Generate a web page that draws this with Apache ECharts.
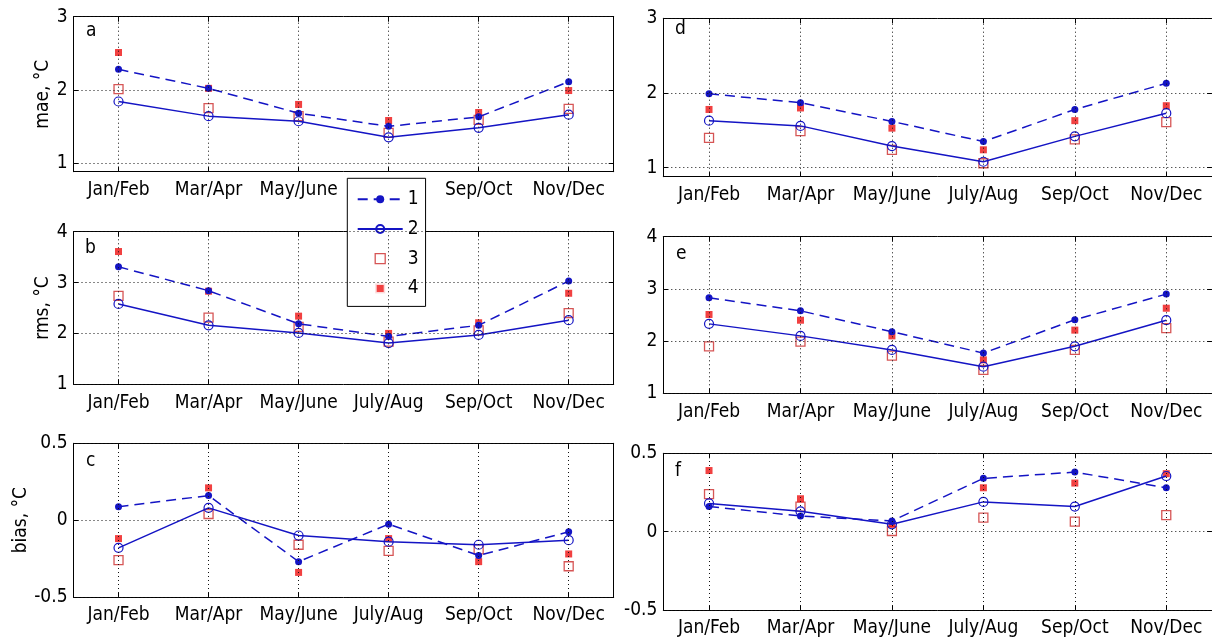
<!DOCTYPE html>
<html><head><meta charset="utf-8">
<script src="https://cdn.jsdelivr.net/npm/echarts@6/dist/echarts.min.js"></script>
<style>html,body{margin:0;padding:0;background:#fff}#c{width:1212px;height:639px}</style>
</head><body><div id="c"></div>
<script>
const categories = ['Jan/Feb','Mar/Apr','May/June','July/Aug','Sep/Oct','Nov/Dec'];
const seriesNames = ['1','2','3','4'];
const xTickVals = [1,2,3,4,5,6];
const maeTicks = [1,2,3];
const rmsTicks = [1,2,3,4];
const biasTicks = [-0.5,0,0.5];

// panel a: mae (left column)
const a1 = [2.28,2.02,1.68,1.50,1.63,2.11];
const a2 = [1.84,1.64,1.57,1.35,1.48,1.66];
const a3 = [2.01,1.75,1.64,1.41,1.59,1.74];
const a4 = [2.51,2.02,1.80,1.58,1.69,1.99];
// panel b: rms (left column)
const b1 = [3.31,2.84,2.19,1.94,2.16,3.03];
const b2 = [2.58,2.16,2.01,1.81,1.97,2.26];
const b3 = [2.74,2.31,2.13,1.84,2.06,2.40];
const b4 = [3.61,2.83,2.34,2.00,2.21,2.79];
// panel c: bias (left column)
const c1 = [0.087,0.16,-0.27,-0.026,-0.23,-0.076];
const c2 = [-0.18,0.08,-0.10,-0.14,-0.16,-0.13];
const c3 = [-0.26,0.04,-0.16,-0.20,-0.19,-0.30];
const c4 = [-0.12,0.21,-0.34,-0.12,-0.27,-0.22];
// panel d: mae (right column)
const d1 = [1.99,1.87,1.62,1.35,1.78,2.13];
const d2 = [1.63,1.56,1.29,1.08,1.42,1.73];
const d3 = [1.40,1.49,1.24,1.06,1.38,1.61];
const d4 = [1.78,1.80,1.53,1.24,1.63,1.83];
// panel e: rms (right column)
const e1 = [2.83,2.58,2.18,1.77,2.41,2.90];
const e2 = [2.33,2.10,1.83,1.51,1.90,2.40];
const e3 = [1.90,1.99,1.72,1.45,1.83,2.25];
const e4 = [2.51,2.40,2.10,1.64,2.21,2.63];
// panel f: bias (right column)
const f1 = [0.16,0.10,0.068,0.34,0.38,0.28];
const f2 = [0.18,0.13,0.047,0.19,0.16,0.355];
const f3 = [0.24,0.16,0.004,0.09,0.064,0.106];
const f4 = [0.39,0.21,0.047,0.28,0.31,0.37];

const FONT = '"Liberation Sans Narrow","DejaVu Sans Condensed","Arial Narrow","Liberation Sans",sans-serif';
const FS = 19;
const BLUE = '#1414c4';
const RED = '#ee1111';
const RED_EDGE = '#cc2a2a';

const panels = [
  {letter:'a', grid:{left:73.5, top:16.7, width:540.2, height:155}, min:0.88, max:3, ticks:maeTicks, data:[a1,a2,a3,a4], yName:'mae, °C', lt:{left:86, top:22}},
  {letter:'b', grid:{left:73.5, top:231.7, width:540.2, height:152.6}, min:1, max:4, ticks:rmsTicks, data:[b1,b2,b3,b4], yName:'rms, °C', lt:{left:85, top:239}},
  {letter:'c', grid:{left:73.5, top:443.3, width:540.2, height:153.7}, min:-0.5, max:0.5, ticks:biasTicks, data:[c1,c2,c3,c4], yName:'bias, °C', lt:{left:86, top:452}},
  {letter:'d', grid:{left:663.3, top:18.3, width:558.6, height:158.4}, min:0.88, max:3, ticks:maeTicks, data:[d1,d2,d3,d4], yName:'', lt:{left:675, top:20}},
  {letter:'e', grid:{left:663.3, top:236.7, width:558.6, height:156.6}, min:1, max:4, ticks:rmsTicks, data:[e1,e2,e3,e4], yName:'', lt:{left:676, top:245}},
  {letter:'f', grid:{left:663.3, top:453.3, width:558.6, height:156.7}, min:-0.5, max:0.5, ticks:biasTicks, data:[f1,f2,f3,f4], yName:'', lt:{left:675, top:462}}
];

const grids = [], xAxes = [], yAxes = [], series = [], titles = [];
const axLine = {show:true, onZero:false, lineStyle:{color:'#000', width:1}};
const tickStyle = {color:'#000', width:1};

panels.forEach((p, i) => {
  grids.push(Object.assign({containLabel:false}, p.grid));
  const xb = {type:'value', gridIndex:i, min:0.5, max:6.5, position:'bottom',
    axisLine:axLine, splitLine:{show:false},
    axisTick:{show:true, inside:true, length:5, customValues:xTickVals, lineStyle:tickStyle},
    axisLabel:{customValues:xTickVals, formatter:v => categories[Math.round(v)-1], color:'#000', fontSize:FS, fontFamily:FONT, margin:9}};
  const xt = Object.assign({}, xb, {position:'top', axisLabel:{show:false, customValues:xTickVals}});
  xAxes.push(xb, xt);
  const yl = {type:'value', gridIndex:i, min:p.min, max:p.max, position:'left',
    axisLine:axLine, splitLine:{show:false},
    axisTick:{show:true, inside:true, length:5, customValues:p.ticks, lineStyle:tickStyle},
    axisLabel:{customValues:p.ticks, formatter:v => String(v), color:'#000', fontSize:FS, fontFamily:FONT, margin:6},
    name:p.yName, nameLocation:'middle', nameGap:21,
    nameTextStyle:{color:'#000', fontSize:FS, fontFamily:FONT}};
  const yr = Object.assign({}, yl, {position:'right', name:'', axisLabel:{show:false, customValues:p.ticks}});
  yAxes.push(yl, yr);
  const xi = 2*i, yi = 2*i;
  // dotted grid lines
  series.push({type:'line', name:'grid'+i, xAxisIndex:xi, yAxisIndex:yi, data:[], silent:true,
    markLine:{silent:true, symbol:['none','none'], label:{show:false}, animation:false,
      lineStyle:{color:'#111', type:[1,3], width:1},
      emphasis:{disabled:true},
      data:[...xTickVals.map(v => ({xAxis:v})), ...p.ticks.map(v => ({yAxis:v}))]}});
  const pts = arr => arr.map((v,k) => [xTickVals[k], v]);
  series.push({type:'line', name:seriesNames[0], xAxisIndex:xi, yAxisIndex:yi, data:pts(p.data[0]),
    symbol:'circle', symbolSize:7, itemStyle:{color:BLUE},
    lineStyle:{color:BLUE, width:1.5, type:[10,6]}, animation:false});
  series.push({type:'line', name:seriesNames[1], xAxisIndex:xi, yAxisIndex:yi, data:pts(p.data[1]),
    symbol:'circle', symbolSize:9, itemStyle:{color:'rgba(255,255,255,0)', borderColor:BLUE, borderWidth:1.2},
    lineStyle:{color:BLUE, width:1.5}, animation:false});
  series.push({type:'scatter', name:seriesNames[2], xAxisIndex:xi, yAxisIndex:yi, data:pts(p.data[2]),
    symbol:'rect', symbolSize:9, itemStyle:{color:'rgba(255,255,255,0)', borderColor:RED_EDGE, borderWidth:1.3}, animation:false});
  series.push({type:'scatter', name:seriesNames[3], xAxisIndex:xi, yAxisIndex:yi, data:pts(p.data[3]),
    symbol:'rect', symbolSize:7, itemStyle:{color:RED}, animation:false});
  titles.push({text:p.letter, left:p.lt.left, top:p.lt.top, padding:0,
    textStyle:{fontSize:FS, fontWeight:'normal', fontFamily:FONT, color:'#000'}});
});

const SQUARE = 'path://M0,0L10,0L10,10L0,10Z';
const chart = echarts.init(document.getElementById('c'), null, {renderer:'canvas'});
chart.setOption({
  animation:false,
  backgroundColor:'#fff',
  title:titles,
  grid:grids, xAxis:xAxes, yAxis:yAxes, series:series,
  legend:{
    data:[
      {name:seriesNames[0]},
      {name:seriesNames[1]},
      {name:seriesNames[2], icon:SQUARE, itemStyle:{color:'rgba(255,255,255,0)', borderColor:RED_EDGE, borderWidth:1.3}},
      {name:seriesNames[3], icon:SQUARE, itemStyle:{color:RED, borderColor:'#fff', borderWidth:3}}
    ],
    orient:'vertical', left:347.3, top:178.3, itemWidth:45, itemHeight:10, itemGap:10.7,
    padding:[11.5,7,8.5,9.4], backgroundColor:'#fff', borderColor:'#000', borderWidth:1, borderRadius:0,
    textStyle:{fontSize:FS, fontFamily:FONT, color:'#000'}, selectedMode:true}
});
</script></body></html>
